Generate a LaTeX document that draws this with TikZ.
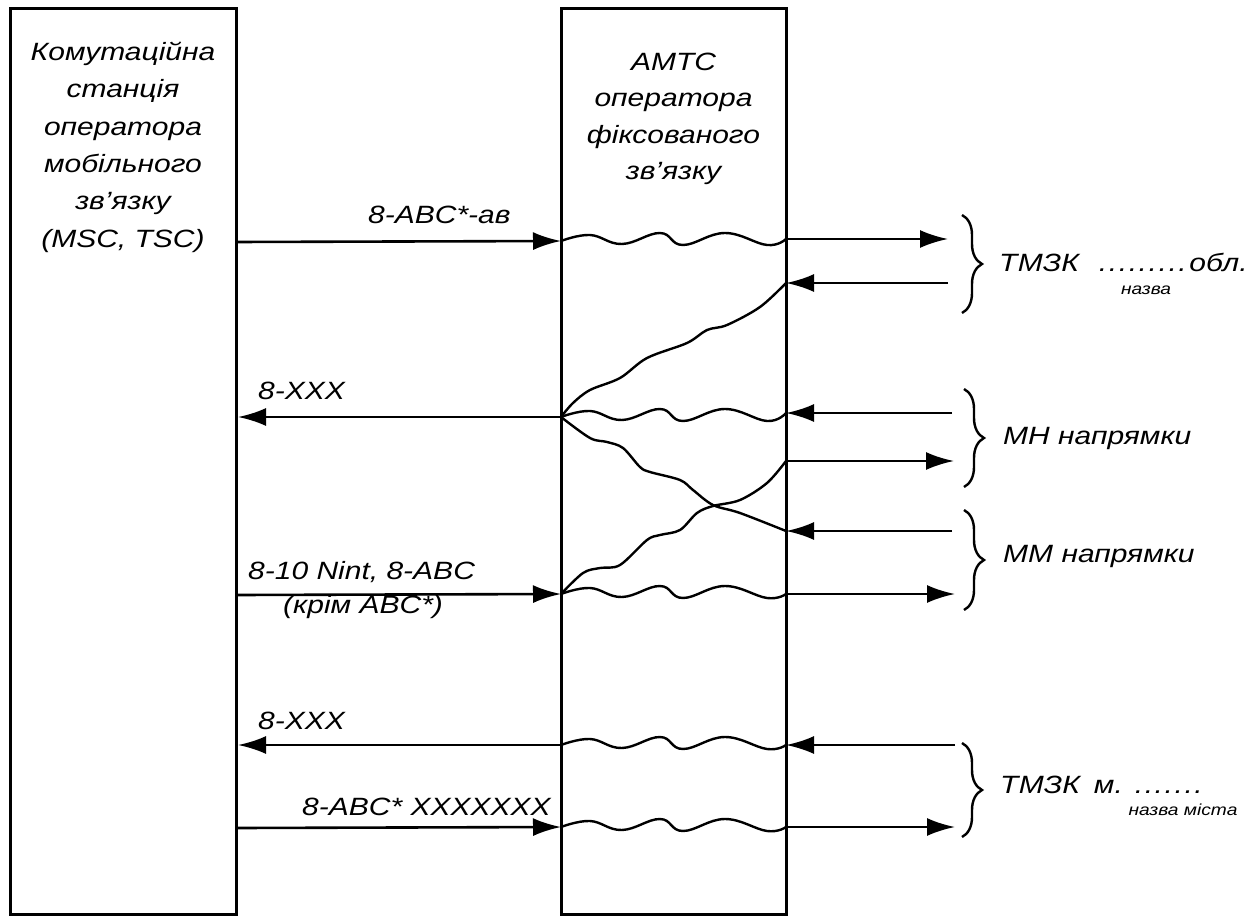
\documentclass[tikz,border=0pt]{standalone}
\usepackage{fontspec}
\setmainfont{Liberation Sans}[FakeStretch=1.2]
\usetikzlibrary{arrows.meta,calc,decorations.pathreplacing}
\newcommand\wvline[2]{\draw[curv] plot[smooth,tension=0.7] coordinates {(#1) ($(#1)+(29,-6)$) ($(#1)+(61,3)$) ($(#1)+(99,-8)$) ($(#1)+(122,4)$) ($(#1)+(164,-8)$) ($(#1)+(206,4)$) (#2)};}
\newcommand\dotrow[1]{\foreach \i in {1,...,#1}{.\hspace{1.6pt}}}
\begin{document}
\begin{tikzpicture}[x=1pt,y=-1pt,
  box/.style={draw, line width=3pt, inner sep=0pt},
  arr/.style={line width=2.6pt, -{Latex[length=28pt,width=18pt]}},
  curv/.style={line width=2.4pt},
  lbl/.style={font=\fontsize{25}{37.3}\selectfont\itshape, inner sep=0pt},
  sublbl/.style={font=\fontsize{16}{18}\selectfont\itshape, inner sep=0pt},
  brc/.style={line width=2.4pt, decorate, decoration={brace, amplitude=20pt}},
]
\useasboundingbox (0,0) rectangle (1260,917);

% boxes
\node[box, minimum width=226pt, minimum height=905pt] (msc) at (123,461.5) {};
\node[box, minimum width=225pt, minimum height=905pt] (amts) at (673.5,461.5) {};
\node[lbl, align=center, anchor=north] (msct) at (123,42)
  {Комутаційна\\станція\\оператора\\мобільного\\зв’язку\\(MSC, TSC)};
\node[lbl, align=center, anchor=north, font=\fontsize{25}{36.3}\selectfont\itshape] (amtst) at (673.5,53)
  {АМТС\\оператора\\фіксованого\\зв’язку};

% junctions on the AMTS box
\coordinate (L1) at (561,241); \coordinate (R1) at (786,239);
\coordinate (R2) at (786,283);
\coordinate (L2) at (561,417); \coordinate (R3) at (786,413);
\coordinate (R4) at (786,461); \coordinate (R5) at (786,531);
\coordinate (L3) at (561,594); \coordinate (R6) at (786,594);
\coordinate (L4) at (561,745); \coordinate (R7) at (786,745);
\coordinate (L5) at (561,827); \coordinate (R8) at (786,827);

% left ends
\coordinate (A1) at (236,242);
\coordinate (A2) at (238,417);
\coordinate (A3) at (238,595);
\coordinate (A4) at (238,745);
\coordinate (A5) at (238,828);

% right ends
\coordinate (E1) at (948,239);
\coordinate (E2) at (948,283);
\coordinate (E3) at (952,413);
\coordinate (E4) at (954,461);
\coordinate (E5) at (952,531);
\coordinate (E6) at (955,594);
\coordinate (E7) at (955,745);
\coordinate (E8) at (955,827);

% left arrows
\draw[arr] (A1) -- (L1);
\draw[arr] (L2) -- (A2);
\draw[arr] (A3) -- (L3);
\draw[arr] (L4) -- (A4);
\draw[arr] (A5) -- (L5);

% wavy lines through AMTS
\wvline{L1}{R1}
\wvline{L2}{R3}
\wvline{L3}{R6}
\wvline{L4}{R7}
\wvline{L5}{R8}

% curved lines
\draw[curv] plot[smooth, tension=0.55] coordinates {(R2) (760,307) (727,325) (707,330) (687,343) (647,358) (620,378) (590,390) (573,403) (L2)};
\draw[curv] plot[smooth, tension=0.55] coordinates {(L2) (590,438) (607,442) (623,448) (640,467) (650,472) (680,480) (693,490) (713,505) (740,513) (R5)};
\draw[curv] plot[smooth, tension=0.55] coordinates {(L3) (583,573) (600,568) (620,565) (647,540) (660,535) (680,530) (697,513) (713,506) (740,500) (767,483) (R4)};

% right arrows
\draw[arr] (R1) -- (E1);
\draw[arr] (E2) -- (R2);
\draw[arr] (E3) -- (R3);
\draw[arr] (R4) -- (E4);
\draw[arr] (E5) -- (R5);
\draw[arr] (R6) -- (E6);
\draw[arr] (E7) -- (R7);
\draw[arr] (R8) -- (E8);

% braces
\coordinate (B1a) at (962,215); \coordinate (B1b) at (962,313);
\coordinate (B2a) at (964,389); \coordinate (B2b) at (964,487);
\coordinate (B3a) at (964,510); \coordinate (B3b) at (964,610);
\coordinate (B4a) at (962,743); \coordinate (B4b) at (962,837);
\draw[brc] (B1a) -- (B1b);
\draw[brc] (B2a) -- (B2b);
\draw[brc] (B3a) -- (B3b);
\draw[brc] (B4a) -- (B4b);

% left labels
\node[lbl, anchor=base west] (t1) at (368,224) {8-ABC*-ав};
\node[lbl, anchor=base west] (t2) at (258,399) {8-XXX};
\node[lbl, anchor=base west] (t3) at (248,579) {8-10 Nint, 8-ABC};
\node[lbl, anchor=base west] (t4) at (283,613) {(крім ABC*)};
\node[lbl, anchor=base west] (t5) at (258,729) {8-XXX};
\node[lbl, anchor=base west] (t6) at (302,815) {8-ABC* XXXXXXX};

% right labels
\node[lbl, anchor=base west] (r1) at (999,272) {ТМЗК\hspace{20pt}\dotrow{9}\hspace{1pt}обл.};
\node[sublbl] (r1s) at (1146,290) {назва};
\node[lbl, anchor=base west] (r2) at (1003,444) {МН напрямки};
\node[lbl, anchor=base west] (r3) at (1003,562) {ММ напрямки};
\node[lbl, anchor=base west] (r4) at (1000,793) {ТМЗК\hspace{14pt}м.\hspace{12pt}\dotrow{7}};
\node[sublbl] (r4s) at (1183,810) {назва міста};
\end{tikzpicture}
\end{document}
